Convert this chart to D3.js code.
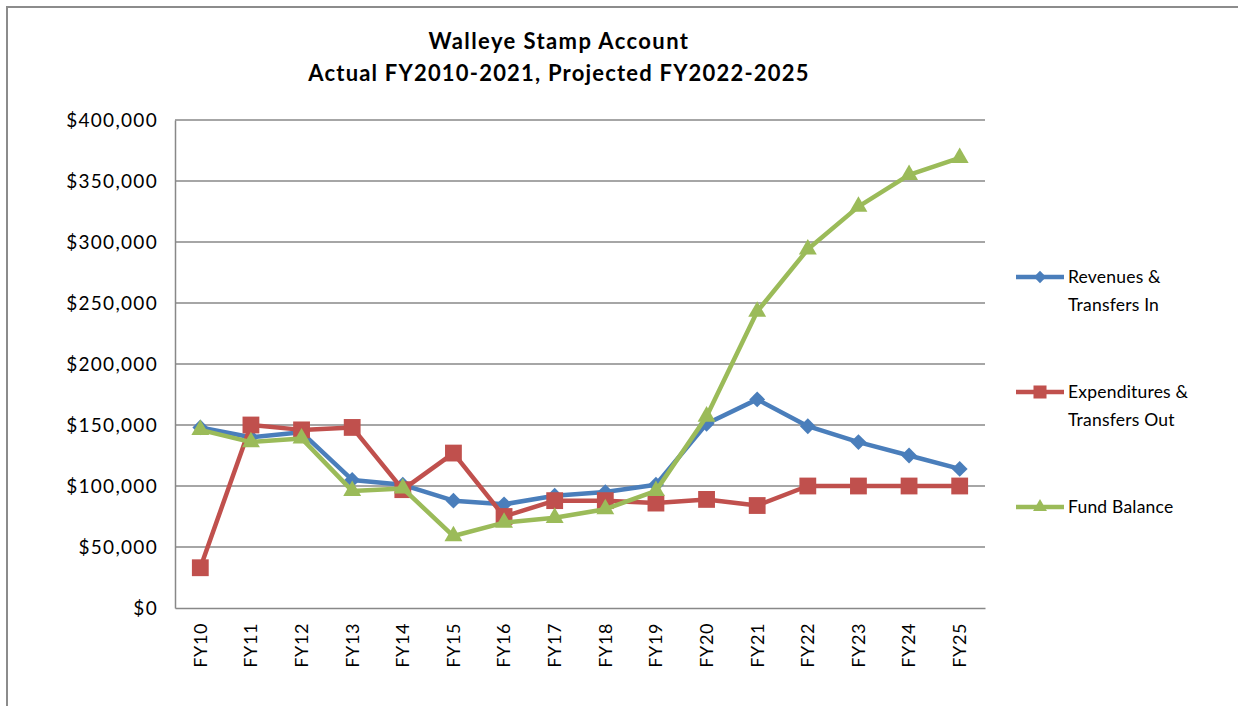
<!DOCTYPE html>
<html>
<head>
<meta charset="utf-8">
<script src="https://cdn.jsdelivr.net/npm/d3@7"></script>
<style>
  body { margin: 0; background: #fff; }
  text { font-family: Lato, "Open Sans", sans-serif; fill: #000; }
</style>
</head>
<body>
<div id="chart"></div>
<script>
// data (thousands of dollars)
const years = ["FY10","FY11","FY12","FY13","FY14","FY15","FY16","FY17",
               "FY18","FY19","FY20","FY21","FY22","FY23","FY24","FY25"];
const revenues = [148,140,144,105,101,88,85,92,95,101,151,171,149,136,125,114];
const expenditures = [33,150,146,148,97,127,75,88,88,86,89,84,100,100,100,100];
const fundBalance = [146,136,139,96,98,59,70,74,81,96,157,243,294,329,355,369];
const yTicks = [0,50,100,150,200,250,300,350,400];

const width = 1238, height = 706;
const margin = { left: 175, right: 253, top: 120, bottom: 98 };

const series = [
  { name: ["Revenues &", "Transfers In"], values: revenues, color: "#4a7ebb", shape: d3.symbolDiamond2, size: 160, legendY: 277 },
  { name: ["Expenditures &", "Transfers Out"], values: expenditures, color: "#c0504d", shape: d3.symbolSquare2, size: 360, legendY: 392 },
  { name: ["Fund Balance"], values: fundBalance, color: "#9bbb59", shape: d3.symbolTriangle2, size: 230, legendY: 507 }
];

const svg = d3.select("#chart").append("svg")
  .attr("width", width).attr("height", height);

// outer chart border
svg.append("rect")
  .attr("x", 7).attr("y", 7)
  .attr("width", width + 20).attr("height", height + 20)
  .style("fill", "none").style("stroke", "#8c8c8c").style("stroke-width", 2);

const x = d3.scaleBand().domain(years)
  .range([margin.left, width - margin.right]);
const y = d3.scaleLinear().domain([0, 400])
  .range([height - margin.bottom, margin.top]);

// gridlines
svg.append("g")
  .selectAll("line")
  .data(yTicks.filter(d => d > 0))
  .enter().append("line")
    .attr("x1", margin.left).attr("x2", width - margin.right)
    .attr("y1", d => y(d)).attr("y2", d => y(d))
    .style("stroke", "#888").style("stroke-width", 1.5);

// axes
const yAxis = svg.append("g")
  .attr("transform", `translate(${margin.left},0)`)
  .call(d3.axisLeft(y).tickValues(yTicks).tickSize(0).tickPadding(17)
    .tickFormat(d => "$" + d3.format(",")(d * 1000)));
yAxis.select(".domain").style("stroke", "#888").style("stroke-width", 1.5);
yAxis.selectAll("text")
  .style("font-size", "19px").style("font-family", "Lato, sans-serif")
  .style("letter-spacing", "1.3px");

const xAxis = svg.append("g")
  .attr("transform", `translate(0,${height - margin.bottom})`)
  .call(d3.axisBottom(x).tickSize(0).tickSizeOuter(0));
xAxis.select(".domain").style("stroke", "#888").style("stroke-width", 1.5);
xAxis.selectAll("text")
  .style("font-size", "18px").style("font-family", "Lato, sans-serif")
  .style("letter-spacing", "0.6px")
  .attr("text-anchor", "end")
  .attr("transform", "rotate(-90)")
  .attr("x", -15).attr("y", 0).attr("dy", "0.35em");

// lines and markers
const cx = d => x.bandwidth() / 2 + x(d);
const line = d3.line()
  .x((d, i) => cx(years[i]))
  .y(d => y(d));

series.forEach(s => {
  svg.append("path")
    .datum(s.values)
    .attr("d", line)
    .style("fill", "none")
    .style("stroke", s.color)
    .style("stroke-width", 4.5)
    .style("stroke-linejoin", "round");

  svg.append("g")
    .selectAll("path")
    .data(s.values)
    .enter().append("path")
      .attr("d", d3.symbol(s.shape, s.size))
      .attr("transform", (d, i) => `translate(${cx(years[i])},${y(d)})`)
      .style("fill", s.color);
});

// legend
const legend = svg.append("g").attr("class", "legend");
series.forEach(s => {
  const g = legend.append("g").attr("transform", `translate(0,${s.legendY})`);
  g.append("line")
    .attr("x1", 1016).attr("x2", 1064)
    .style("stroke", s.color).style("stroke-width", 4.5);
  g.append("path")
    .attr("d", d3.symbol(s.shape, s.size * 0.6))
    .attr("transform", "translate(1040,0)")
    .style("fill", s.color);
  g.selectAll("text")
    .data(s.name)
    .enter().append("text")
      .attr("x", 1068)
      .attr("y", (d, i) => i * 28)
      .attr("dy", "0.35em")
      .style("font-size", "17.5px")
      .style("letter-spacing", "0.2px")
      .text(d => d);
});

// title
svg.append("text")
  .attr("x", 559).attr("y", 49)
  .attr("text-anchor", "middle")
  .style("font-size", "22px").style("font-weight", "bold")
  .style("letter-spacing", "1.4px")
  .text("Walleye Stamp Account");
svg.append("text")
  .attr("x", 559).attr("y", 81)
  .attr("text-anchor", "middle")
  .style("font-size", "22px").style("font-weight", "bold")
  .style("letter-spacing", "1.2px")
  .text("Actual FY2010-2021, Projected FY2022-2025");
</script>
</body>
</html>
